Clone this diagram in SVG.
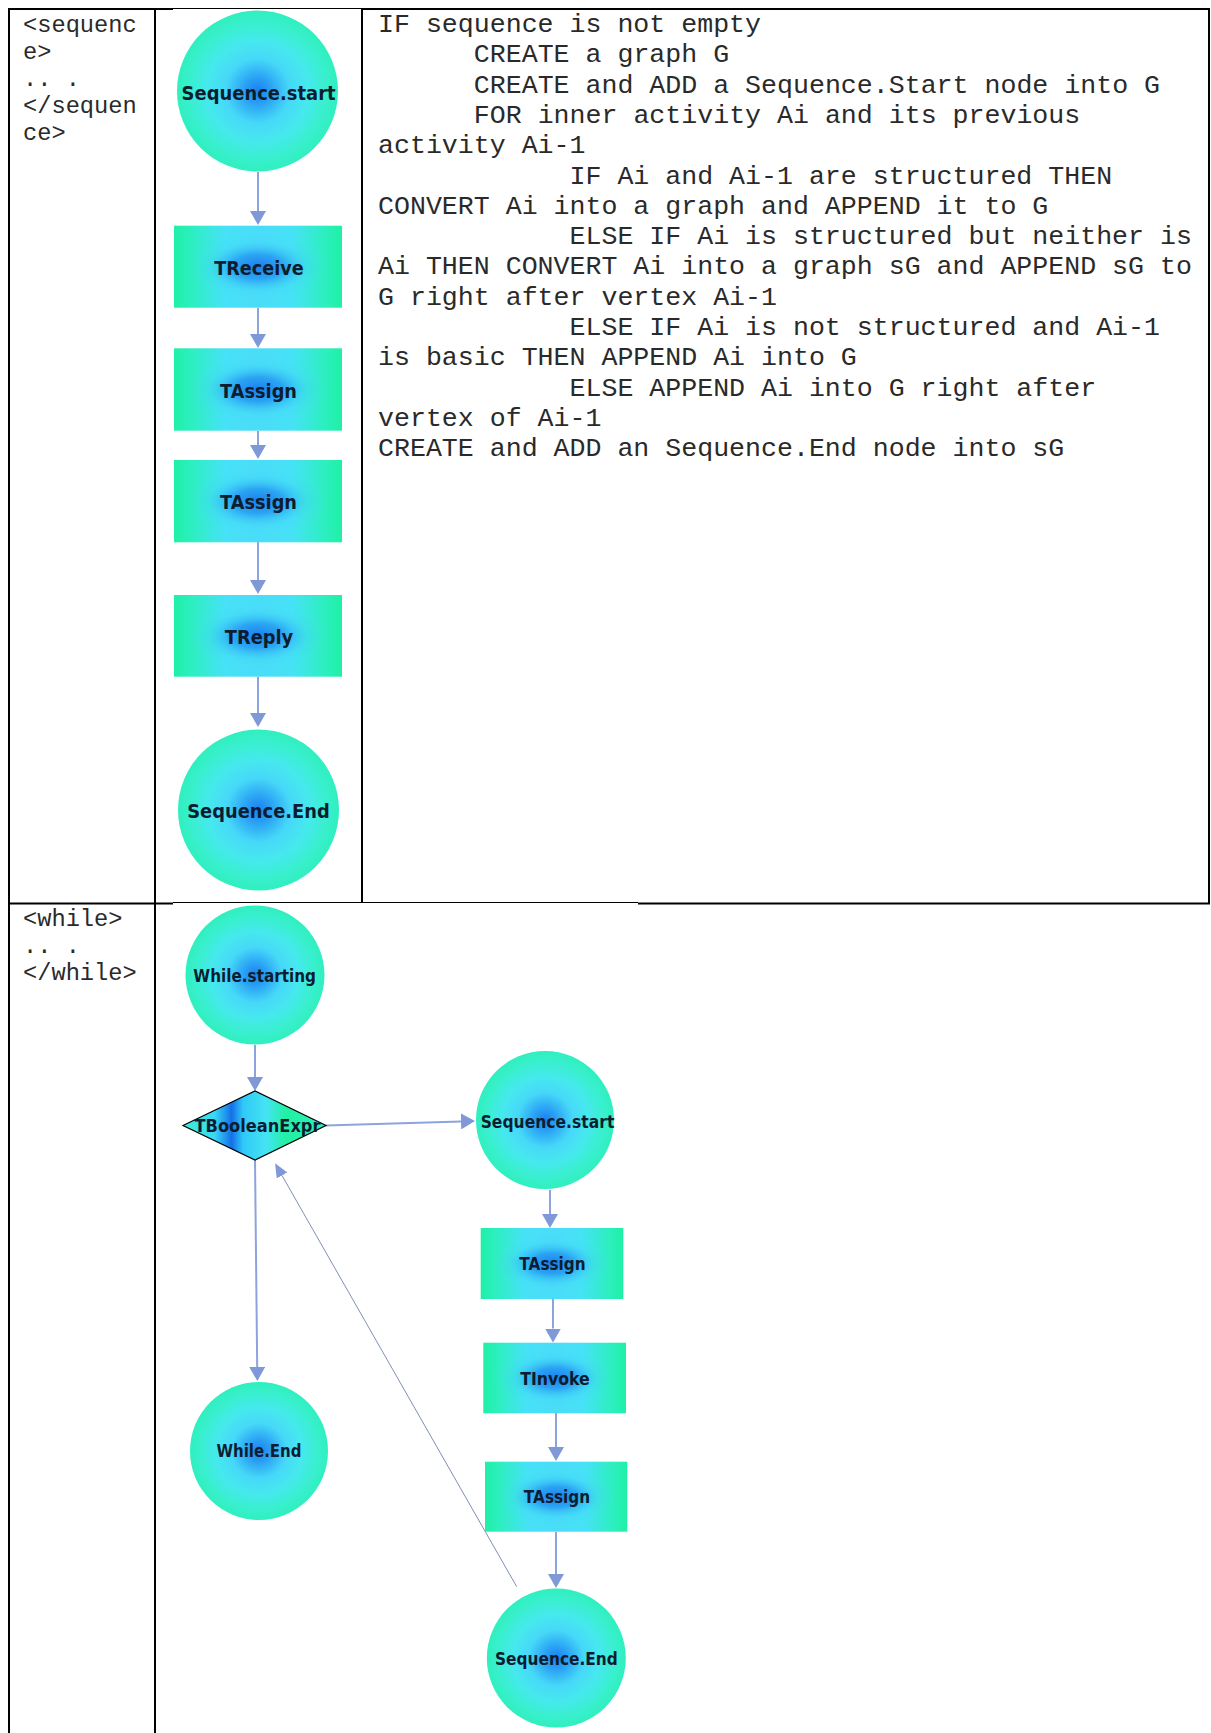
<svg xmlns="http://www.w3.org/2000/svg" width="1211" height="1733" viewBox="0 0 1211 1733">
  <style>
    .grid { stroke: #000; stroke-width: 2; fill: none; }
    .grid-thin { stroke: #000; stroke-width: 1.2; fill: none; }
    .tag { font-family: "Liberation Mono", "Courier New", monospace; font-size: 23.7px; fill: #2a2a2a; }
    .code { font-family: "Liberation Mono", "Courier New", monospace; font-size: 26.6px; fill: #2a2a2a; }
    .lbl { font-family: "DejaVu Sans", Tahoma, sans-serif; font-weight: bold; fill: #0d1d30; text-anchor: middle; }
    .lbl-a { font-size: 20px; }
    .lbl-b { font-size: 17.6px; }
    .edge { stroke: #8ca4dc; stroke-width: 2; fill: none; marker-end: url(#head); }
    .edge-back { stroke: #7f8fb6; stroke-width: 1; fill: none; marker-end: url(#headSmall); }
  </style>
  <defs>
    <radialGradient id="gCircle" cx="50%" cy="50%" r="50%">
      <stop offset="0" stop-color="#1a80ef"/>
      <stop offset="0.16" stop-color="#2aa0f4"/>
      <stop offset="0.4" stop-color="#46d8f8"/>
      <stop offset="0.62" stop-color="#46e8ee"/>
      <stop offset="0.86" stop-color="#38f0cc"/>
      <stop offset="1" stop-color="#30efbf"/>
    </radialGradient>
    <linearGradient id="gRectBase" x1="0" y1="0" x2="1" y2="0">
      <stop offset="0" stop-color="#1ff0a6"/>
      <stop offset="0.1" stop-color="#2cefbe"/>
      <stop offset="0.3" stop-color="#46e2f6"/>
      <stop offset="0.5" stop-color="#4adcf8"/>
      <stop offset="0.7" stop-color="#46e2f6"/>
      <stop offset="0.9" stop-color="#2cefbe"/>
      <stop offset="1" stop-color="#1ff0a6"/>
    </linearGradient>
    <radialGradient id="gRectGlow" cx="50%" cy="50%" r="50%">
      <stop offset="0" stop-color="#1a7eee" stop-opacity="1"/>
      <stop offset="0.3" stop-color="#2496f2" stop-opacity="0.8"/>
      <stop offset="0.6" stop-color="#40d0f8" stop-opacity="0.25"/>
      <stop offset="0.85" stop-color="#48e0f8" stop-opacity="0"/>
    </radialGradient>
    <linearGradient id="gDiamond" x1="0" y1="0" x2="1" y2="0">
      <stop offset="0" stop-color="#3cf0d4"/>
      <stop offset="0.22" stop-color="#3ad8f6"/>
      <stop offset="0.34" stop-color="#1470e8"/>
      <stop offset="0.42" stop-color="#30c8f8"/>
      <stop offset="0.58" stop-color="#44e4f2"/>
      <stop offset="0.72" stop-color="#22f0a4"/>
      <stop offset="1" stop-color="#2cf0b8"/>
    </linearGradient>
    <marker id="head" viewBox="0 0 14 16" refX="0" refY="8" markerWidth="14" markerHeight="16" markerUnits="userSpaceOnUse" orient="auto">
      <path d="M0,0 L14,8 L0,16 z" fill="#7f98d8"/>
    </marker>
    <marker id="headSmall" viewBox="0 0 14 12" refX="0" refY="6" markerWidth="14" markerHeight="12" markerUnits="userSpaceOnUse" orient="auto">
      <path d="M0,0 L14,6 L0,12 z" fill="#7f98d8"/>
    </marker>
  </defs>

  <rect width="1211" height="1733" fill="#fff"/>

  <!-- table rules -->
  <g id="table">
    <line class="grid" x1="8" y1="9" x2="173" y2="9"/>
    <line class="grid-thin" x1="173" y1="8.5" x2="362" y2="8.5"/>
    <line class="grid" x1="362" y1="9" x2="1210" y2="9"/>
    <line class="grid" x1="9" y1="8" x2="9" y2="1733"/>
    <line class="grid" x1="155" y1="8" x2="155" y2="1733"/>
    <line class="grid" x1="362" y1="8" x2="362" y2="903"/>
    <line class="grid" x1="1209" y1="8" x2="1209" y2="903"/>
    <line class="grid" x1="8" y1="903.5" x2="173" y2="903.5"/>
    <line class="grid-thin" x1="173" y1="902.5" x2="638" y2="902.5"/>
    <line class="grid" x1="638" y1="903.5" x2="1210" y2="903.5"/>
  </g>

  <!-- left column: element tags -->
  <g id="tags">
    <text class="tag" x="23" y="31.5">&lt;sequenc</text>
    <text class="tag" x="23" y="58.5">e&gt;</text>
    <text class="tag" x="23" y="85.5">.. .</text>
    <text class="tag" x="23" y="112.5">&lt;/sequen</text>
    <text class="tag" x="23" y="139.5">ce&gt;</text>
    <text class="tag" x="23" y="926">&lt;while&gt;</text>
    <text class="tag" x="23" y="953">.. .</text>
    <text class="tag" x="23" y="980">&lt;/while&gt;</text>
  </g>

  <!-- right column: conversion rule -->
  <g id="rule">
    <text class="code" x="378" y="32">IF sequence is not empty</text>
    <text class="code" x="473.8" y="62.3">CREATE a graph G</text>
    <text class="code" x="473.8" y="92.6">CREATE and ADD a Sequence.Start node into G</text>
    <text class="code" x="473.8" y="122.9">FOR inner activity Ai and its previous</text>
    <text class="code" x="378" y="153.2">activity Ai-1</text>
    <text class="code" x="569.5" y="183.5">IF Ai and Ai-1 are structured THEN</text>
    <text class="code" x="378" y="213.8">CONVERT Ai into a graph and APPEND it to G</text>
    <text class="code" x="569.5" y="244.1">ELSE IF Ai is structured but neither is</text>
    <text class="code" x="378" y="274.4">Ai THEN CONVERT Ai into a graph sG and APPEND sG to</text>
    <text class="code" x="378" y="304.7">G right after vertex Ai-1</text>
    <text class="code" x="569.5" y="335">ELSE IF Ai is not structured and Ai-1</text>
    <text class="code" x="378" y="365.3">is basic THEN APPEND Ai into G</text>
    <text class="code" x="569.5" y="395.6">ELSE APPEND Ai into G right after</text>
    <text class="code" x="378" y="425.9">vertex of Ai-1</text>
    <text class="code" x="378" y="456.2">CREATE and ADD an Sequence.End node into sG</text>
  </g>

  <!-- connectors -->
  <g id="connectors">
    <line class="edge" x1="258" y1="172" x2="258" y2="211"/>
    <line class="edge" x1="258" y1="308" x2="258" y2="334"/>
    <line class="edge" x1="258" y1="431" x2="258" y2="445"/>
    <line class="edge" x1="258" y1="542" x2="258" y2="580"/>
    <line class="edge" x1="258" y1="677" x2="258" y2="713"/>

    <line class="edge" x1="255" y1="1045" x2="255" y2="1077"/>
    <line class="edge" x1="326" y1="1125.5" x2="461" y2="1121.4"/>
    <line class="edge" x1="255" y1="1160" x2="257.2" y2="1367"/>
    <line class="edge" x1="550" y1="1190" x2="550" y2="1214"/>
    <line class="edge" x1="553" y1="1299" x2="553" y2="1328.5"/>
    <line class="edge" x1="556" y1="1413" x2="556" y2="1447"/>
    <line class="edge" x1="556" y1="1532" x2="556" y2="1574"/>
    <line class="edge-back" x1="516.7" y1="1586.7" x2="282" y2="1175.5"/>
  </g>

  <!-- sequence graph -->
  <g id="seq-start">
    <circle cx="257.5" cy="91" r="80.5" fill="url(#gCircle)"/>
    <text class="lbl lbl-a" x="258.6" y="100" textLength="154" lengthAdjust="spacingAndGlyphs">Sequence.start</text>
  </g>
  <g id="seq-receive">
    <rect x="174" y="225.7" width="168" height="82" fill="url(#gRectBase)"/>
    <rect x="174" y="225.7" width="168" height="82" fill="url(#gRectGlow)"/>
    <text class="lbl lbl-a" x="259" y="274.7" textLength="89.5" lengthAdjust="spacingAndGlyphs">TReceive</text>
  </g>
  <g id="seq-assign1">
    <rect x="174" y="348.3" width="168" height="82.4" fill="url(#gRectBase)"/>
    <rect x="174" y="348.3" width="168" height="82.4" fill="url(#gRectGlow)"/>
    <text class="lbl lbl-a" x="258.5" y="398.3" textLength="77" lengthAdjust="spacingAndGlyphs">TAssign</text>
  </g>
  <g id="seq-assign2">
    <rect x="174" y="460" width="168" height="82.3" fill="url(#gRectBase)"/>
    <rect x="174" y="460" width="168" height="82.3" fill="url(#gRectGlow)"/>
    <text class="lbl lbl-a" x="258.5" y="509" textLength="77" lengthAdjust="spacingAndGlyphs">TAssign</text>
  </g>
  <g id="seq-reply">
    <rect x="174" y="595" width="168" height="81.7" fill="url(#gRectBase)"/>
    <rect x="174" y="595" width="168" height="81.7" fill="url(#gRectGlow)"/>
    <text class="lbl lbl-a" x="259" y="643.8" textLength="68.5" lengthAdjust="spacingAndGlyphs">TReply</text>
  </g>
  <g id="seq-end">
    <circle cx="258.5" cy="810" r="80.5" fill="url(#gCircle)"/>
    <text class="lbl lbl-a" x="258.5" y="818.3" textLength="142.5" lengthAdjust="spacingAndGlyphs">Sequence.End</text>
  </g>

  <!-- while graph -->
  <g id="while-start">
    <circle cx="255" cy="975" r="69.5" fill="url(#gCircle)"/>
    <text class="lbl lbl-b" x="254.7" y="982" textLength="122.7" lengthAdjust="spacingAndGlyphs">While.starting</text>
  </g>
  <g id="while-cond">
    <polygon points="183,1125.5 255,1091 326,1125.5 255,1160" fill="url(#gDiamond)" stroke="#000" stroke-width="1.2"/>
    <text class="lbl lbl-b" x="257.5" y="1132.4" textLength="126" lengthAdjust="spacingAndGlyphs">TBooleanExpr</text>
  </g>
  <g id="while-end">
    <circle cx="259" cy="1451" r="69" fill="url(#gCircle)"/>
    <text class="lbl lbl-b" x="259" y="1457.4" textLength="85" lengthAdjust="spacingAndGlyphs">While.End</text>
  </g>
  <g id="body-start">
    <circle cx="545" cy="1120" r="69" fill="url(#gCircle)"/>
    <text class="lbl lbl-b" x="547.5" y="1128" textLength="133.7" lengthAdjust="spacingAndGlyphs">Sequence.start</text>
  </g>
  <g id="body-assign1">
    <rect x="480.7" y="1228" width="142.6" height="71" fill="url(#gRectBase)"/>
    <rect x="480.7" y="1228" width="142.6" height="71" fill="url(#gRectGlow)"/>
    <text class="lbl lbl-b" x="552.5" y="1270.4" textLength="66.3" lengthAdjust="spacingAndGlyphs">TAssign</text>
  </g>
  <g id="body-invoke">
    <rect x="483.3" y="1342.7" width="142.7" height="70.6" fill="url(#gRectBase)"/>
    <rect x="483.3" y="1342.7" width="142.7" height="70.6" fill="url(#gRectGlow)"/>
    <text class="lbl lbl-b" x="555" y="1385.4" textLength="69.6" lengthAdjust="spacingAndGlyphs">TInvoke</text>
  </g>
  <g id="body-assign2">
    <rect x="485" y="1461.7" width="142.3" height="70" fill="url(#gRectBase)"/>
    <rect x="485" y="1461.7" width="142.3" height="70" fill="url(#gRectGlow)"/>
    <text class="lbl lbl-b" x="557" y="1503.4" textLength="66.3" lengthAdjust="spacingAndGlyphs">TAssign</text>
  </g>
  <g id="body-end">
    <circle cx="556.3" cy="1658" r="69.5" fill="url(#gCircle)"/>
    <text class="lbl lbl-b" x="556.4" y="1665" textLength="122.7" lengthAdjust="spacingAndGlyphs">Sequence.End</text>
  </g>
</svg>
